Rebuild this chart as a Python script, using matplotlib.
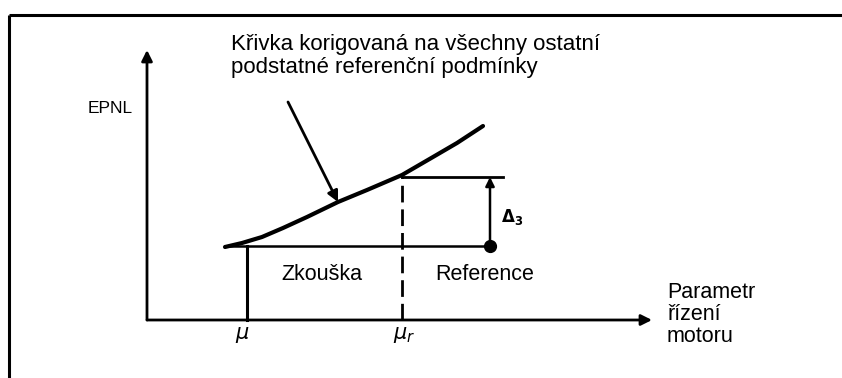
import matplotlib
matplotlib.use("Agg")
import matplotlib.pyplot as plt

plt.rcParams['font.family'] = ['Liberation Sans', 'DejaVu Sans']

# Korigovaná křivka EPNL v závislosti na parametru řízení motoru
krivka_x = [78, 95, 115, 136, 160, 191, 220, 255, 286, 310, 336]
krivka_y = [73, 77, 83, 92, 103, 118, 130, 145, 163, 177, 194]

mu = 100          # zkouška
mu_r = 255        # reference
x_ref = 343       # poloha referenčního bodu
epnl_zkouska = 74
epnl_ref = 143
konec_osy_x = 505
konec_osy_y = 270

fig = plt.figure(figsize=(8.42, 3.78), dpi=100)
ax = fig.add_axes([0, 0, 1, 1])
ax.set_xlim(-147, 695)
ax.set_ylim(-58, 320)
ax.axis("off")

cerna = "black"

# rámeček (horní a levá hrana)
ax.plot([-138, 695], [305, 305], color=cerna, lw=2.2, solid_capstyle="butt")
ax.plot([-138, -138], [305, -58], color=cerna, lw=2.2, solid_capstyle="butt")

# osy
ax.annotate("", xy=(0, konec_osy_y), xytext=(0, 0),
            arrowprops=dict(arrowstyle="-|>", lw=2.0, color=cerna,
                            mutation_scale=16, shrinkA=0, shrinkB=0))
ax.annotate("", xy=(konec_osy_x, 0), xytext=(0, 0),
            arrowprops=dict(arrowstyle="-|>", lw=2.0, color=cerna,
                            mutation_scale=16, shrinkA=0, shrinkB=0))

# křivka
ax.plot(krivka_x, krivka_y, color=cerna, lw=3.0, solid_capstyle="round",
        solid_joinstyle="round")

# vodorovné úrovně
ax.plot([krivka_x[0], x_ref + 3], [epnl_zkouska, epnl_zkouska], color=cerna, lw=1.8)
ax.plot([mu_r, x_ref + 13], [epnl_ref, epnl_ref], color=cerna, lw=2.0)

# svislice
ax.plot([mu, mu], [0, epnl_zkouska], color=cerna, lw=2.2)
ax.plot([mu_r, mu_r], [0, epnl_ref], color=cerna, lw=2.0,
        linestyle=(0, (6, 2.5)))

# Δ3
ax.annotate("", xy=(x_ref, epnl_ref), xytext=(x_ref, epnl_zkouska),
            arrowprops=dict(arrowstyle="-|>", lw=1.8, color=cerna,
                            mutation_scale=13, shrinkA=0, shrinkB=0))
ax.plot([x_ref], [epnl_zkouska], "o", color=cerna, markersize=8.5)

# šipka ukazující na křivku
ax.annotate("", xy=(191, 118), xytext=(141, 218),
            arrowprops=dict(arrowstyle="-|>", lw=2.0, color=cerna,
                            mutation_scale=16, shrinkA=0, shrinkB=0))

# texty
ax.text(84, 270, "Křivka korigovaná na všechny ostatní", fontsize=16,
        ha="left", va="baseline")
ax.text(84, 247, "podstatné referenční podmínky", fontsize=16,
        ha="left", va="baseline")
ax.text(-59, 207, "EPNL", fontsize=12.5, ha="left", va="baseline")
ax.text(175, 45, "Zkouška", fontsize=15.5, ha="center", va="center")
ax.text(338, 45, "Reference", fontsize=15.5, ha="center", va="center")
ax.text(354, 103, r"$\mathbf{\Delta_3}$", fontsize=12, ha="left", va="center")
ax.text(mu - 5, -15, r"$\mu$", fontsize=15, ha="center", va="center")
ax.text(mu_r + 2, -15, r"$\mu_r$", fontsize=15, ha="center", va="center")
for y, radek in zip([22, 0, -22], ["Parametr", "řízení", "motoru"]):
    ax.text(520, y, radek, fontsize=15.5, ha="left", va="baseline")

fig.savefig("out.png", dpi=100)
